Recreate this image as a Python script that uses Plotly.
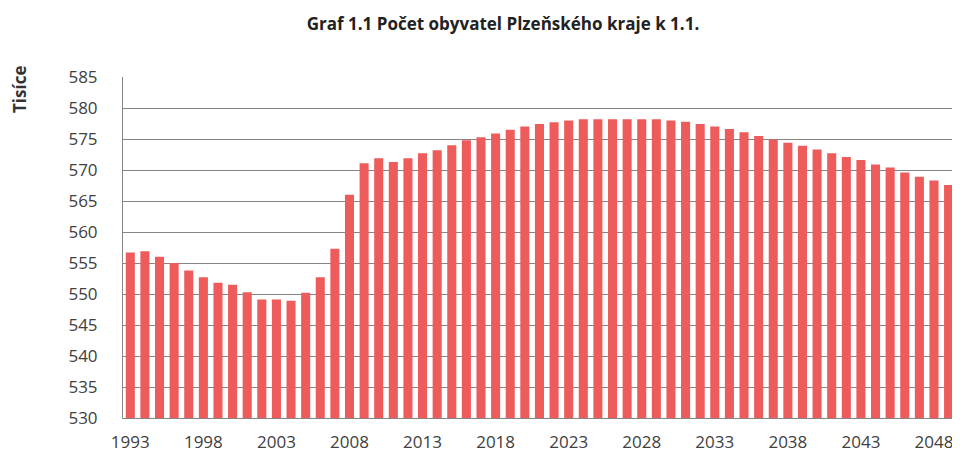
import plotly.graph_objects as go

years = list(range(1993, 2051))
population = [
    556.7, 556.9, 556.0, 555.0, 553.8, 552.7, 551.8, 551.5, 550.3, 549.1,
    549.1, 548.9, 550.2, 552.7, 557.3, 566.0, 571.1, 571.9, 571.3, 571.9,
    572.7, 573.2, 574.0, 574.8, 575.3, 575.9, 576.5, 577.0, 577.4, 577.7,
    578.0, 578.2, 578.2, 578.2, 578.2, 578.2, 578.2, 578.0, 577.8, 577.4,
    577.0, 576.6, 576.1, 575.5, 574.9, 574.4, 573.9, 573.3, 572.7, 572.1,
    571.6, 570.9, 570.4, 569.6, 568.9, 568.3, 567.6, 566.9,
]
tick_years = [1993, 1998, 2003, 2008, 2013, 2018, 2023, 2028, 2033, 2038, 2043, 2048]
y_ticks = [530, 535, 540, 545, 550, 555, 560, 565, 570, 575, 580, 585]

title_text = "Graf 1.1 Počet obyvatel Plzeňského kraje k 1.1."
y_title = "Tisíce"

# page body has an 8px margin, so the figure is offset by 8px
OFF = 8
W, H = 960 - OFF, 453 - OFF
L, R, T = 123 - OFF, 0, 77 - OFF
B = H - (418 - OFF)

fig = go.Figure()
fig.add_trace(go.Bar(
    x=years, y=population,
    marker=dict(color="#EE5B5B", line=dict(width=0)),
    width=0.62,
))

font_family = "Open Sans, DejaVu Sans, sans-serif"

fig.update_layout(
    width=W, height=H,
    margin=dict(l=L, r=R, t=T, b=B, pad=0),
    paper_bgcolor="white", plot_bgcolor="white",
    showlegend=False,
    title=dict(
        text="<b>" + title_text + "</b>",
        x=(503 - OFF) / W, xref="container", xanchor="center",
        y=1 - (24 - OFF) / H, yref="container", yanchor="middle",
        font=dict(family=font_family, size=17, color="#222222"),
    ),
    xaxis=dict(
        range=[1992.5, 2049.78],
        tickmode="array", tickvals=tick_years,
        ticktext=[str(t) for t in tick_years],
        showgrid=False, zeroline=False,
        showline=True, linecolor="#858585", linewidth=1,
        ticks="", ticklabelstandoff=9,
        tickfont=dict(family=font_family, size=17, color="#404040"),
    ),
    yaxis=dict(
        range=[530, 585],
        tickmode="array", tickvals=y_ticks,
        showgrid=True, gridcolor="#858585", gridwidth=1,
        zeroline=False,
        showline=True, linecolor="#858585", linewidth=1,
        ticks="", ticklabelstandoff=21,
        tickfont=dict(family=font_family, size=17, color="#404040"),
    ),
    annotations=[dict(
        text="<b>" + y_title + "</b>",
        textangle=-90,
        xref="paper", yref="paper",
        x=(20 - 123) / (960 - 123), y=(418 - 90) / (418 - 77),
        xanchor="center", yanchor="middle", showarrow=False,
        font=dict(family=font_family, size=17, color="#333333"),
    )],
    bargap=0.38,
)

fig.write_html("out.html")
